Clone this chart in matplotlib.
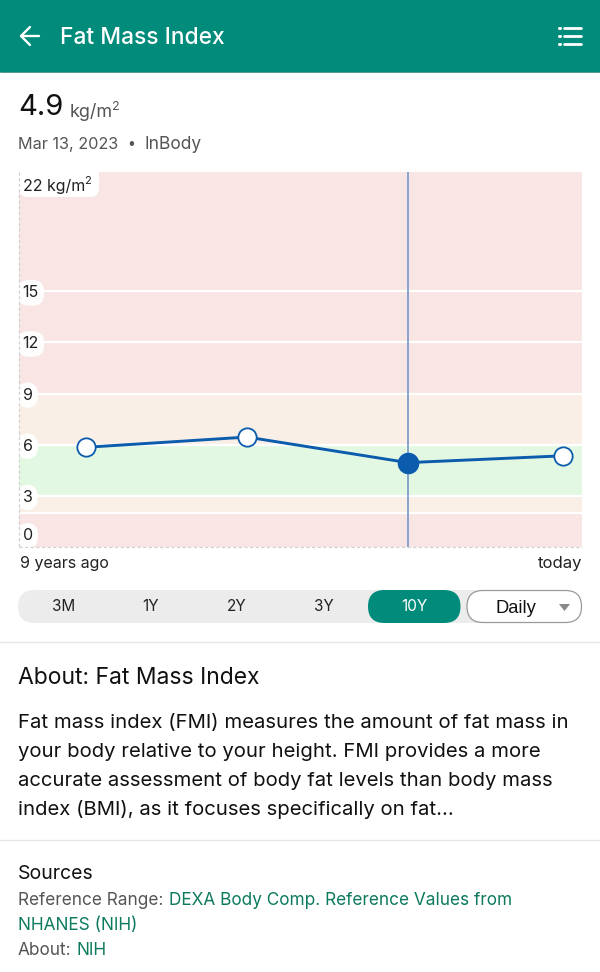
import numpy as np
import matplotlib
matplotlib.use('Agg')
import matplotlib.pyplot as plt
from matplotlib.patches import FancyBboxPatch, Rectangle, Polygon

plt.rcParams['font.family'] = ['Inter', 'DejaVu Sans']

# chart data
years_ago = [7.92, 5.35, 2.78, 0.30]
fmi = [5.85, 6.45, 4.95, 5.35]
selected = 2
band_edges = [0, 2, 3, 6, 9, 22]
band_colors = ['#f9e5e4', '#f9efe6', '#e3f8e3', '#f9efe6', '#f9e5e4']
grid_values = [2, 3, 6, 9, 12, 15]
tick_values = [3, 6, 9, 12, 15]
ranges = ['3M', '1Y', '2Y', '3Y', '10Y']
range_x = [64, 151, 237, 324, 414]
about_lines = ['Fat mass index (FMI) measures the amount of fat mass in',
               'your body relative to your height. FMI provides a more',
               'accurate assessment of body fat levels than body mass',
               'index (BMI), as it focuses specifically on fat...']

GREEN = '#008b7a'
BLUE = '#0b5cad'
W, H = 600, 972

fig = plt.figure(figsize=(6, 9.72), dpi=100, facecolor='white')

# plot area, pixels converted to figure fractions
ax = fig.add_axes([18.5 / W, 1 - 547 / H, 563.5 / W, 375 / H])
ax.set_xlim(9, 0)
ax.set_ylim(0, 22)
ax.axis('off')

for i in range(len(band_colors)):
    ax.axhspan(band_edges[i], band_edges[i + 1], color=band_colors[i], lw=0, zorder=1)
for g in grid_values:
    ax.axhline(g, color='white', lw=1.6, zorder=2)

ax.axvline(years_ago[selected], color='#7f9fcb', lw=1.3, zorder=3)
ax.plot(years_ago, fmi, color=BLUE, lw=2.1, zorder=4, clip_on=False)
ax.plot(years_ago, fmi, 'o', ms=13.2, mfc='white', mec=BLUE, mew=1.3, zorder=5, clip_on=False)
ax.plot(years_ago[selected], fmi[selected], 'o', ms=14.5, mfc=BLUE, mec=BLUE, zorder=6)

# y labels sit in little white pills
pill = dict(boxstyle='round,pad=0.33,rounding_size=0.7', fc='white', ec='none', alpha=0.95)
for t in tick_values:
    ax.text(8.935, t, str(t), fontsize=11.5, color='#222222', va='center_baseline', ha='left',
            bbox=pill, zorder=7, clip_on=True)
ax.text(8.935, 0.75, '0', fontsize=11.5, color='#222222', va='center_baseline', ha='left',
        bbox=pill, zorder=7, clip_on=True)

# everything else is page furniture drawn in pixels
ui = fig.add_axes([0, 0, 1, 1], facecolor='none')
ui.set_xlim(0, W)
ui.set_ylim(H, 0)
ui.axis('off')


def txt(x, y, s, size, color='#111111', ha='left', weight='normal', family=None):
    return ui.text(x, y, s, fontsize=size, color=color, ha=ha, va='baseline', weight=weight,
                   family=family if family else ['Inter', 'DejaVu Sans'])


# header
ui.add_patch(Rectangle((0, 0), W, 72.5, fc=GREEN, ec='none'))
ui.plot([0, W], [72.5, 72.5], color='#0a6f62', lw=0.5)
ui.plot([21, 39], [36, 36], color='white', lw=1.7, solid_capstyle='round')
ui.plot([30, 21, 30], [27, 36, 45], color='white', lw=1.7, solid_capstyle='round')
txt(60, 44, 'Fat Mass Index', 16.4, 'white', weight='medium')
for y in [28, 36, 44]:
    ui.plot([564, 581], [y, y], color='white', lw=2.0, solid_capstyle='round')
    ui.plot([558.5, 559.5], [y, y], color='white', lw=2.2, solid_capstyle='round')

# current reading
txt(18, 115, '4.9', 21, '#111111')
txt(70, 117, 'kg/m', 13, '#555555')
txt(112, 110, '2', 9, '#555555')
txt(18, 149, 'Mar 13, 2023', 11.7, '#555555')
txt(127, 148, '•', 10, '#555555')
txt(144, 149, 'InBody', 12.5, '#555555')

# dashed frame and the top label
ui.plot([18.5, 18.5], [172, 547], color='#d0d0d0', lw=0.9, ls=(0, (2.5, 2)))
ui.plot([18.5, 582], [547, 547], color='#d0d0d0', lw=0.9, ls=(0, (2.5, 2)))
ui.add_patch(FancyBboxPatch((19, 166), 80, 31, boxstyle='round,pad=0,rounding_size=9', fc='white', ec='none'))
ui.add_patch(Rectangle((19, 166), 80, 6, fc='white', ec='none'))
txt(23, 191, '22 kg/m', 11.5, '#222222')
txt(84, 184, '2', 8, '#222222')
txt(20, 568, '9 years ago', 11.5, '#222222')
txt(582, 568, 'today', 12, '#222222', ha='right')

# range selector
ui.add_patch(FancyBboxPatch((18, 590), 480, 33, boxstyle='round,pad=0,rounding_size=16.5', fc='#ececec', ec='none'))
ui.add_patch(Rectangle((484, 590), 16, 33, fc='white', ec='none'))
ui.add_patch(FancyBboxPatch((368, 590), 92.5, 33, boxstyle='round,pad=0,rounding_size=16.5', fc=GREEN, ec='none'))
for lab, x in zip(ranges, range_x):
    txt(x, 611, lab, 11, 'white' if lab == '10Y' else '#222222', ha='center')
ui.add_patch(FancyBboxPatch((467, 590.5), 114.5, 32, boxstyle='round,pad=0,rounding_size=16', fc='white', ec='#999999', lw=0.9))
txt(516, 613, 'Daily', 13.2, '#111111', ha='center', family='Liberation Sans')
ui.add_patch(Polygon([[559, 604], [570, 604], [564.5, 611]], fc='#888888', ec='none'))

ui.plot([0, W], [642, 642], color='#e6e6e6', lw=1.0)

# about section
txt(18, 684, 'About: Fat Mass Index', 16.5, '#111111')
for i, line in enumerate(about_lines):
    txt(18, 728 + i * 29, line, 14.6, '#111111')

ui.plot([0, W], [840, 840], color='#e6e6e6', lw=1.0)

# sources
txt(18, 879, 'Sources', 14, '#111111')
txt(18, 905, 'Reference Range:', 12.4, '#555555')
txt(169, 905, 'DEXA Body Comp. Reference Values from', 12.4, '#0d7a5f')
txt(18, 930, 'NHANES (NIH)', 12.4, '#0d7a5f')
txt(18, 955, 'About:', 12.4, '#555555')
txt(76, 955, 'NIH', 12.4, '#0d7a5f')

fig.savefig('out.png', dpi=100)
